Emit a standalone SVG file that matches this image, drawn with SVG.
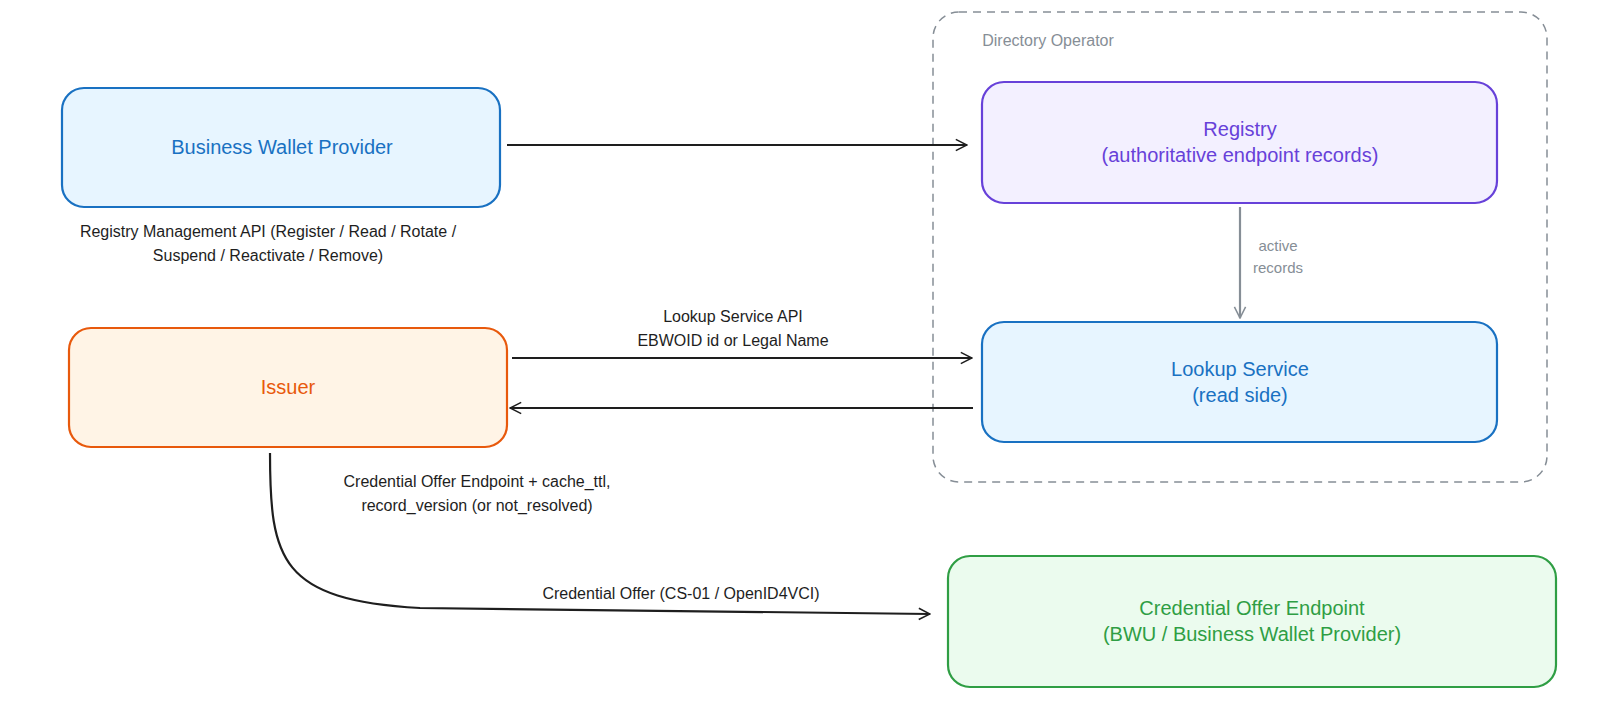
<svg xmlns="http://www.w3.org/2000/svg" width="1600" height="712" viewBox="0 0 1600 712">
<style>
text{font-family:"Liberation Sans",Arial,sans-serif;text-anchor:middle}
.n{font-size:20px}
.l{font-size:16px;fill:#1e1e1e}
.e{fill:none;stroke:#1e1e1e;stroke-width:2.2}
</style>
<defs>
<marker id="a" viewBox="0 0 20 20" refX="18" refY="10" markerWidth="14" markerHeight="14" markerUnits="userSpaceOnUse" orient="auto"><path d="M2,2 L18,10 L2,18" fill="none" stroke="#1e1e1e" stroke-width="2.2"/></marker>
<marker id="g" viewBox="0 0 20 20" refX="18" refY="10" markerWidth="14" markerHeight="14" markerUnits="userSpaceOnUse" orient="auto"><path d="M2,2 L18,10 L2,18" fill="none" stroke="#868e96" stroke-width="2.2"/></marker>
</defs>
<rect width="1600" height="712" fill="#fff"/>
<g id="directory-operator">
<rect x="933" y="12" width="614" height="470" rx="26" fill="none" stroke="#868e96" stroke-width="1.5" stroke-dasharray="8 6"/>
<text x="1048" y="46" style="font-size:16px;fill:#868e96">Directory Operator</text>
</g>
<g id="bwp"><rect x="62" y="88" width="438" height="119" rx="22" fill="#e7f5ff" stroke="#1971c2" stroke-width="2.2"/><text class="n" x="282" y="154" fill="#1971c2">Business Wallet Provider</text></g>
<g id="registry"><rect x="982" y="82" width="515" height="121" rx="22" fill="#f3f0ff" stroke="#6741d9" stroke-width="2.2"/><text class="n" x="1240" y="136" fill="#6741d9">Registry</text><text class="n" x="1240" y="162" fill="#6741d9">(authoritative endpoint records)</text></g>
<g id="lookup"><rect x="982" y="322" width="515" height="120" rx="22" fill="#e7f5ff" stroke="#1971c2" stroke-width="2.2"/><text class="n" x="1240" y="376" fill="#1971c2">Lookup Service</text><text class="n" x="1240" y="402" fill="#1971c2">(read side)</text></g>
<g id="issuer"><rect x="69" y="328" width="438" height="119" rx="22" fill="#fff4e6" stroke="#e8590c" stroke-width="2.2"/><text class="n" x="288" y="394" fill="#e8590c">Issuer</text></g>
<g id="coe"><rect x="948" y="556" width="608" height="131" rx="22" fill="#ebfbee" stroke="#2f9e44" stroke-width="2.2"/><text class="n" x="1252" y="615" fill="#2f9e44">Credential Offer Endpoint</text><text class="n" x="1252" y="641" fill="#2f9e44">(BWU / Business Wallet Provider)</text></g>
<g id="connectors">
<path class="e" d="M507,145 L967,145" marker-end="url(#a)"/>
<text class="l" x="268" y="237">Registry Management API (Register / Read / Rotate /</text>
<text class="l" x="268" y="261">Suspend / Reactivate / Remove)</text>
<path d="M1240,207 L1240,318" fill="none" stroke="#868e96" stroke-width="2.2" marker-end="url(#g)"/>
<text x="1278" y="251" style="font-size:15px;fill:#868e96">active</text>
<text x="1278" y="273" style="font-size:15px;fill:#868e96">records</text>
<path class="e" d="M512,358 L972,358" marker-end="url(#a)"/>
<text class="l" x="733" y="322">Lookup Service API</text>
<text class="l" x="733" y="346">EBWOID id or Legal Name</text>
<path class="e" d="M973,408 L510,408" marker-end="url(#a)"/>
<text class="l" x="477" y="487">Credential Offer Endpoint + cache_ttl,</text>
<text class="l" x="477" y="511">record_version (or not_resolved)</text>
<path class="e" d="M270,453 C270,560 280,600 420,608 L930,614" marker-end="url(#a)"/>
<text class="l" x="681" y="599">Credential Offer (CS-01 / OpenID4VCI)</text>
</g>
</svg>
